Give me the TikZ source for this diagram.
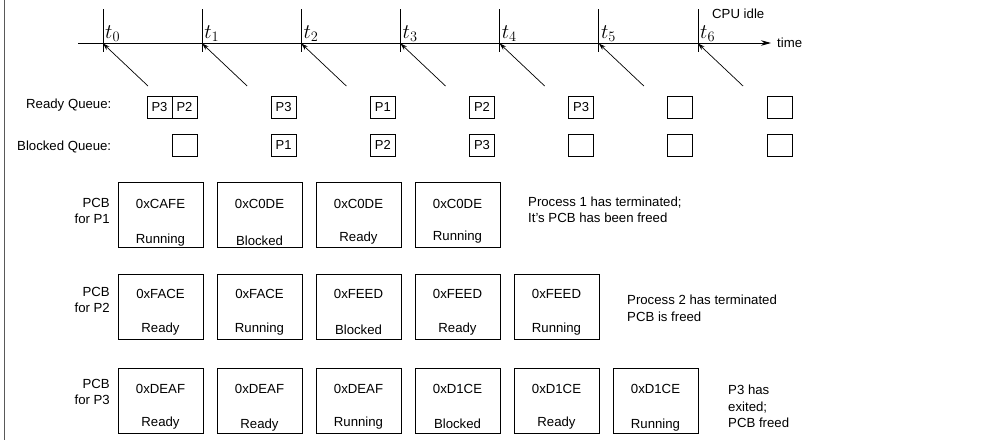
\documentclass[tikz,border=0pt]{standalone}
\usepackage{fontspec}
\setmainfont{Liberation Sans}
\usetikzlibrary{arrows.meta}
\begin{document}
\begin{tikzpicture}[x=1pt,y=-1pt,
  lbl/.style={inner sep=0pt, font=\fontsize{13.2}{16}\selectfont},
  qbox/.style={draw, line width=0.8pt, minimum width=25pt, minimum height=22pt, inner sep=0pt, font=\fontsize{13}{16}\selectfont},
  pcbbox/.style={draw, line width=0.8pt, minimum width=85pt, minimum height=65pt, inner sep=0pt},
  tickline/.style={line width=0.8pt},
  tlbl/.style={inner sep=0pt, anchor=base west, font=\fontsize{22}{26}\selectfont},
  diagarrow/.style={line width=0.7pt, -{Stealth[length=7pt,width=4.5pt]}},
  axisarrow/.style={line width=0.8pt, -{Stealth[length=10pt,width=5.5pt]}}
]
\useasboundingbox (0,0) rectangle (984,440);
% left border
\draw[line width=1.5pt, black!65] (4.5,0) -- (4.5,440);

% time axis
\coordinate (ax0) at (78,43);
\coordinate (ax1) at (771,43);
\draw[axisarrow] (ax0) -- (ax1);
\node[lbl, anchor=base west] (timelbl) at (777,47.5) {time};
\node[lbl, anchor=base west] (idle) at (712,18.5) {CPU idle};

\foreach \k in {0,...,6} {
  \pgfmathsetmacro{\tx}{103+99.17*\k}
  \coordinate (Ttop\k) at (\tx,9);
  \coordinate (Tbot\k) at (\tx,52);
  \coordinate (T\k) at (\tx,43.5);
  \coordinate (A\k) at (\tx+45,86);
  \draw[tickline] (Ttop\k) -- (Tbot\k);
  \draw[diagarrow] (A\k) -- (T\k);
  \node[tlbl] (tl\k) at (\tx+2,38) {$t_{\k}$};
}

% queues
\node[lbl, anchor=base west] (rqlbl) at (26,108.5) {Ready Queue:};
\node[lbl, anchor=base west] (bqlbl) at (17,150) {Blocked Queue:};

\node[qbox] (r0a) at (159.5,107) {P3};
\node[qbox] (r0b) at (184.5,107) {P2};
\foreach \k/\t in {1/P3,2/P1,3/P2,4/P3,5/{},6/{}} {
  \pgfmathsetmacro{\qx}{184.5+99.17*\k}
  \node[qbox] (r\k) at (\qx,107) {\t};
}
\foreach \k/\t in {0/{},1/P1,2/P2,3/P3,4/{},5/{},6/{}} {
  \pgfmathsetmacro{\qx}{184.5+99.17*\k}
  \node[qbox] (b\k) at (\qx,145) {\t};
}

% PCB rows
\node[lbl, anchor=base east] (pcb1a) at (110,207) {PCB};
\node[lbl, anchor=base east] (pcb1b) at (110,223) {for P1};
\node[lbl, anchor=base east] (pcb2a) at (110,296) {PCB};
\node[lbl, anchor=base east] (pcb2b) at (110,312) {for P2};
\node[lbl, anchor=base east] (pcb3a) at (110,388) {PCB};
\node[lbl, anchor=base east] (pcb3b) at (110,404) {for P3};

\foreach \k/\a/\s/\sb in {0/0xCAFE/Running/243.5,1/0xC0DE/Blocked/245,2/0xC0DE/Ready/241.5,3/0xC0DE/Running/240} {
  \pgfmathsetmacro{\px}{160.5+99*\k}
  \node[pcbbox] (pa\k) at (\px,214.5) {};
  \node[lbl, anchor=base] (paa\k) at (\px,208) {\a};
  \node[lbl, anchor=base] (pas\k) at (\px,\sb) {\s};
}
\foreach \k/\a/\s/\sb in {0/0xFACE/Ready/332.5,1/0xFACE/Running/332.5,2/0xFEED/Blocked/334,3/0xFEED/Ready/332.5,4/0xFEED/Running/332.5} {
  \pgfmathsetmacro{\px}{160.5+99*\k}
  \node[pcbbox] (pb\k) at (\px,306.5) {};
  \node[lbl, anchor=base] (pba\k) at (\px,298.5) {\a};
  \node[lbl, anchor=base] (pbs\k) at (\px,\sb) {\s};
}
\foreach \k/\a/\s/\sb in {0/0xDEAF/Ready/426.5,1/0xDEAF/Ready/428,2/0xDEAF/Running/426.5,3/0xD1CE/Blocked/428,4/0xD1CE/Ready/426.5,5/0xD1CE/Running/428} {
  \pgfmathsetmacro{\px}{160.5+99*\k}
  \node[pcbbox] (pc\k) at (\px,400.5) {};
  \node[lbl, anchor=base] (pca\k) at (\px,393.5) {\a};
  \node[lbl, anchor=base] (pcs\k) at (\px,\sb) {\s};
}

% notes
\node[lbl, anchor=base west] (n1a) at (528,206.5) {Process 1 has terminated;};
\node[lbl, anchor=base west] (n1b) at (528,222.5) {It’s PCB has been freed};
\node[lbl, anchor=base west] (n2a) at (627,304.5) {Process 2 has terminated};
\node[lbl, anchor=base west] (n2b) at (627,321.5) {PCB is freed};
\node[lbl, anchor=base west] (n3a) at (728,394.5) {P3 has};
\node[lbl, anchor=base west] (n3b) at (728,411) {exited;};
\node[lbl, anchor=base west] (n3c) at (728,427.5) {PCB freed};
\end{tikzpicture}
\end{document}
